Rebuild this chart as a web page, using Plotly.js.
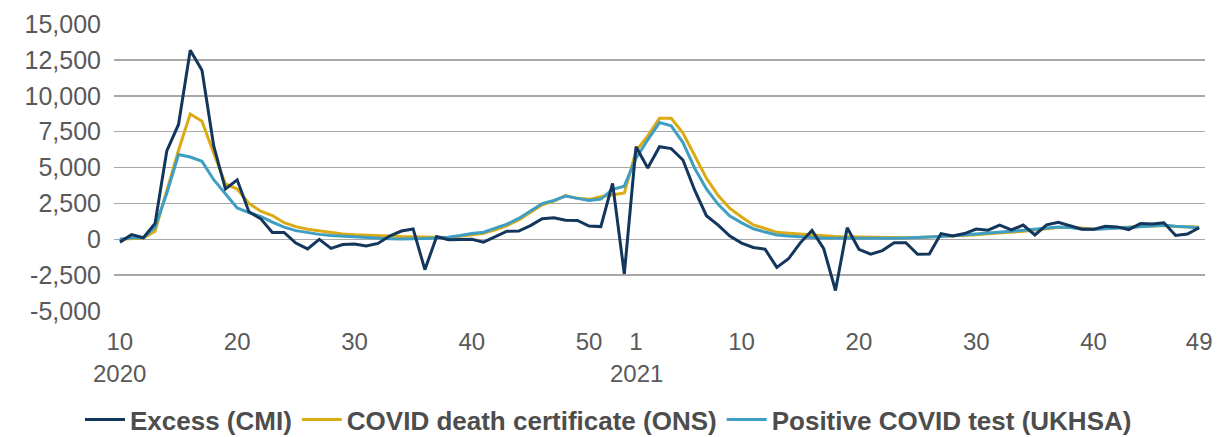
<!DOCTYPE html>
<html>
<head>
<meta charset="utf-8">
<script src="https://cdn.plot.ly/plotly-3.0.1.min.js"></script>
<style>html,body{margin:0;padding:0;background:#fff;}#chart{width:1217px;height:437px;}</style>
</head>
<body>
<div id="chart"></div>
<script>
// Week numbers
const weeks2020 = [10,11,12,13,14,15,16,17,18,19,20,21,22,23,24,25,26,27,28,29,30,31,32,33,34,35,36,37,38,39,40,41,42,43,44,45,46,47,48,49,50,51,52,53];
const weeks2021 = [1,2,3,4,5,6,7,8,9,10,11,12,13,14,15,16,17,18,19,20,21,22,23,24,25,26,27,28,29,30,31,32,33,34,35,36,37,38,39,40,41,42,43,44,45,46,47,48,49];

// Series values (deaths per week)
const excessCMI = [-200,320,100,1100,6150,8000,13170,11780,6500,3500,4140,1910,1440,470,470,-270,-670,-10,-640,-370,-330,-470,-290,220,570,720,-2120,180,-40,0,0,-200,200,560,570,950,1430,1490,1330,1310,920,880,3890,-2420,
  6450,4960,6450,6320,5520,3420,1640,980,220,-270,-570,-690,-1960,-1360,-250,620,-660,-3570,800,-700,-1040,-790,-250,-240,-1050,-1030,395,230,395,710,630,980,650,990,300,1000,1180,930,700,690,910,860,675,1090,1060,1150,265,360,800];
const covidCertONS = [0,30,90,550,3300,6200,8730,8230,6000,3850,3500,2500,1950,1650,1150,880,700,590,460,360,310,270,240,220,190,180,150,120,120,200,330,420,650,950,1350,1850,2400,2650,3050,2850,2780,2960,3070,3220,
  6150,7200,8430,8430,7400,5800,4250,3050,2150,1550,1000,750,480,420,350,290,240,190,170,150,130,120,110,110,120,150,180,210,260,320,380,430,490,550,640,730,820,830,760,720,760,800,850,920,960,950,890,880,850];
const positiveTestUKHSA = [0,100,100,850,3200,5900,5730,5430,4150,3190,2180,1850,1600,1200,840,600,465,340,255,200,150,116,80,30,10,10,50,90,140,256,400,490,745,1050,1450,1980,2490,2700,3010,2850,2700,2800,3480,3700,
  5650,6930,8130,7900,6740,4950,3500,2430,1620,1140,730,500,300,220,150,116,93,80,80,70,60,60,70,90,110,150,200,250,320,400,460,510,560,620,700,780,860,820,720,680,730,780,820,900,960,980,900,850,800];

const tickWeeks = [["2020",10],["2020",20],["2020",30],["2020",40],["2020",50],["2021",1],["2021",10],["2021",20],["2021",30],["2021",40],["2021",49]];
const yearLabels = [["2020",10],["2021",1]];
const yTickVals = [-5000,-2500,0,2500,5000,7500,10000,12500,15000];
const yTickText = ["-5,000","-2,500","0","2,500","5,000","7,500","10,000","12,500","15,000"];

const cats = weeks2020.map(w => "2020-" + w).concat(weeks2021.map(w => "2021-" + w));

const font = "Liberation Sans, Arial, sans-serif";
const textCol = "#595959";

const series = [
  {name: "COVID death certificate (ONS)", y: covidCertONS, color: "#dcaa12", rank: 2},
  {name: "Positive COVID test (UKHSA)", y: positiveTestUKHSA, color: "#3f9ec3", rank: 3},
  {name: "Excess (CMI)", y: excessCMI, color: "#13365c", rank: 1}
];
const data = series.map(s => ({
  type: "scatter", mode: "lines", x: cats, y: s.y, name: s.name, legendrank: s.rank,
  line: {color: s.color, width: 3}, hoverinfo: "skip"
}));

const layout = {
  width: 1217, height: 437,
  margin: {l: 114, r: 12, t: 24, b: 126},
  paper_bgcolor: "#fff", plot_bgcolor: "#fff",
  showlegend: true,
  legend: {orientation: "h", x: 0.5, xanchor: "center", xref: "container",
    y: 0.04, yanchor: "middle", yref: "container",
    font: {family: font, size: 26, color: "#4d4d4d", weight: "bold"},
    itemwidth: 40, tracegroupgap: 0},
  xaxis: {
    type: "category", range: [-0.5, 92.5],
    tickvals: tickWeeks.map(t => t[0] + "-" + t[1]),
    ticktext: tickWeeks.map(t => String(t[1])),
    showgrid: false, zeroline: false, showline: false, ticks: "",
    tickfont: {family: font, size: 24, color: textCol},
    ticklabelstandoff: 14, automargin: false
  },
  yaxis: {
    range: [-5000, 15000], tickvals: yTickVals, ticktext: yTickText,
    showgrid: true, gridcolor: "#a8a8a8", gridwidth: 1.5,
    zeroline: true, zerolinecolor: "#a8a8a8", zerolinewidth: 1.5,
    showline: false, ticks: "",
    tickfont: {family: font, size: 25, color: textCol},
    ticklabelstandoff: 12, automargin: false
  },
  annotations: yearLabels.map(t => ({
    x: t[0] + "-" + t[1], xref: "x", y: -0.164, yref: "paper", yanchor: "top",
    text: t[0], showarrow: false, font: {family: font, size: 24, color: textCol}
  }))
};

Plotly.newPlot("chart", data, layout, {displayModeBar: false, staticPlot: true});
</script>
</body>
</html>
